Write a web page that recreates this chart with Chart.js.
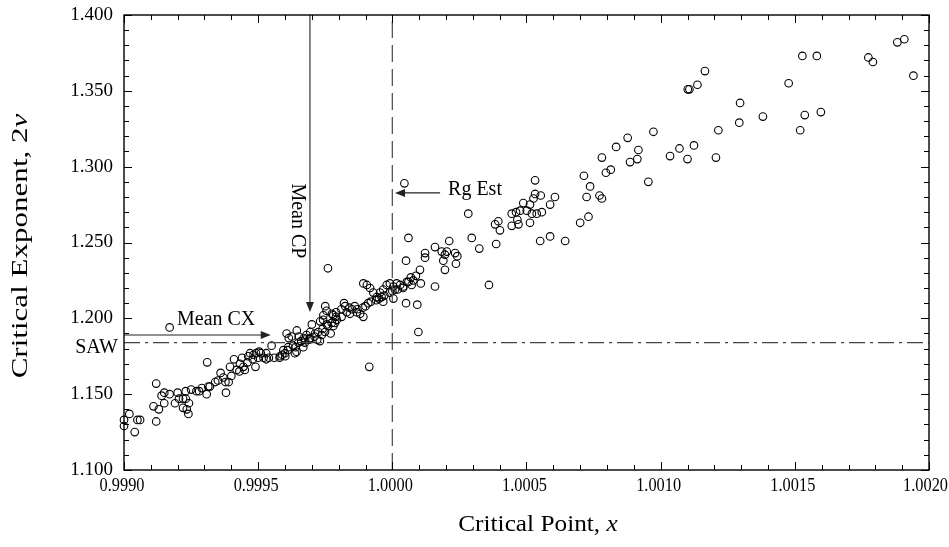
<!DOCTYPE html>
<html><head><meta charset="utf-8">
<script src="https://cdn.jsdelivr.net/npm/chart.js@4"></script>
<style>html,body{margin:0;padding:0;background:#fff;}#wrap{width:949px;height:547px;}</style>
</head><body><div id="wrap"><canvas id="c" width="949" height="547"></canvas></div>
<script>
const criticalPoint = [
0.99900,0.99902,0.99900,0.99904,0.99905,0.99906,0.99911,0.99912,0.99912,0.99913,0.99914,0.99915,0.99915,0.99917,0.99917,0.99919,0.99920,0.999205,0.99922,0.99922,0.99923,0.99923,0.999234,0.99924,0.999242,0.99925,0.99927,0.99928,0.99929,0.99931,0.999308,0.999314,0.99932,0.99934,0.99935,0.99936,0.99937,0.99938,0.999378,0.99939,0.999395,0.99940,0.99941,0.99942,0.99943,0.999432,0.99944,0.999445,0.99945,0.99946,0.999463,0.99947,0.99948,0.999483,0.99949,0.999492,0.99950,0.999504,0.99951,0.99952,0.99953,0.99954,0.99955,
0.99953,0.99956,0.99958,0.999581,0.99959,0.999594,0.99960,0.999601,0.99961,0.999606,0.999612,0.999614,0.99963,0.999625,0.99964,0.999637,0.999644,0.999643,0.99965,0.999651,0.99966,0.99967,0.999668,0.999675,0.999674,0.99968,0.99969,0.999693,0.999694,0.99970,0.99971,0.999712,0.99972,0.999724,0.99973,0.999731,0.99974,0.999737,0.999743,0.999742,0.99975,0.999749,0.999755,0.999756,0.99976,0.99977,0.999774,0.999775,0.99978,0.99979,0.999786,0.99976,
0.99978,0.99979,0.99981,0.99982,0.999824,0.99984,0.99985,0.99986,0.99987,0.99989,0.99990,0.99991,0.99992,0.99994,0.99995,0.99996,0.99997,0.99999,1.00000,1.00001,1.00002,1.00004,0.999892,0.999905,0.999917,0.999929,0.999942,0.999954,0.999966,0.999979,0.999991,1.000004,1.000016,1.000029,1.000041,1.000054,1.000051,0.999892,0.99988,0.999867,0.999842,0.99983,0.999811,0.999793,0.999914,
1.000045,1.00006,1.000051,1.000122,1.000122,1.000159,1.000212,1.000184,1.00019,1.000196,1.000203,1.000234,1.000242,1.000237,1.000196,1.000103,1.000088,1.000078,1.000072,1.000069,1.00006,0.999966,1.000004,1.000093,1.000106,1.000159,1.000097,1.000296,1.000283,1.000324,1.00036,1.000387,1.000383,1.000401,1.000395,1.000445,1.000445,1.000461,1.000466,1.00047,1.000476,1.000488,1.000501,
1.000513,1.00052,1.000538,1.000557,1.000551,1.000588,1.000644,1.000513,1.000588,1.000606,1.000553,1.000532,1.000526,1.000532,1.0007,1.000731,1.000724,1.000737,1.000714,1.000772,1.000781,1.000781,1.000796,1.000814,1.000834,1.000877,1.000886,1.000913,1.000917,1.000954,1.000973,1.001035,1.00107,1.0011,1.001124,1.001101,1.001107,1.001137,
1.001165,1.001206,1.001215,1.001293,1.001296,1.001381,1.001477,1.00152,1.001537,1.001528,1.001582,1.001597,1.001774,1.001791,1.001882,1.001908,1.001942
];
const criticalExponent = [
1.133,1.137,1.129,1.125,1.133,1.133,1.142,1.157,1.132,1.140,1.149,1.151,1.144,1.150,1.194,1.144,1.151,1.147,1.147,1.141,1.147,1.152,1.140,1.137,1.144,1.153,1.152,1.152,1.154,1.171,1.150,1.155,1.155,1.158,1.159,1.164,1.161,1.151,1.158,1.158,1.168,1.162,1.173,1.166,1.165,1.170,1.174,1.168,1.166,1.171,1.175,1.177,1.173,1.176,1.168,1.177,1.174,1.178,1.177,1.174,1.173,1.174,1.182,
1.177,1.174,1.174,1.175,1.176,1.179,1.177,1.175,1.179,1.190,1.181,1.187,1.182,1.188,1.181,1.177,1.192,1.178,1.184,1.188,1.185,1.187,1.181,1.186,1.184,1.189,1.186,1.187,1.191,1.196,1.188,1.190,1.186,1.191,1.185,1.198,1.193,1.189,1.202,1.199,1.208,1.191,1.205,1.196,1.195,1.190,1.197,1.203,1.195,1.201,1.197,1.233,
1.202,1.204,1.206,1.210,1.208,1.207,1.206,1.208,1.206,1.207,1.208,1.210,1.211,1.212,1.213,1.214,1.215,1.217,1.218,1.219,1.219,1.220,1.223,1.222,1.220,1.217,1.214,1.217,1.219,1.222,1.223,1.221,1.223,1.222,1.221,1.224,1.210,1.201,1.203,1.204,1.203,1.204,1.201,1.199,1.168,
1.289,1.253,1.238,1.243,1.240,1.247,1.251,1.244,1.238,1.242,1.244,1.243,1.241,1.236,1.232,1.232,1.228,1.225,1.222,1.227,1.224,1.211,1.213,1.209,1.223,1.221,1.191,1.253,1.269,1.246,1.222,1.249,1.262,1.258,1.264,1.261,1.269,1.270,1.265,1.262,1.271,1.276,1.271,
1.263,1.269,1.269,1.270,1.251,1.254,1.251,1.275,1.275,1.280,1.281,1.282,1.279,1.291,1.263,1.267,1.280,1.287,1.294,1.281,1.279,1.306,1.296,1.298,1.313,1.319,1.303,1.305,1.311,1.290,1.323,1.307,1.312,1.305,1.314,1.351,1.351,1.354,
1.363,1.306,1.324,1.329,1.342,1.333,1.355,1.324,1.334,1.373,1.373,1.336,1.372,1.369,1.382,1.384,1.360
];
const xTickLabels = [0.9990, 0.9995, 1.0000, 1.0005, 1.0010, 1.0015, 1.0020];
const yTickLabels = [1.100, 1.150, 1.200, 1.250, 1.300, 1.350, 1.400];
const sawExponent = 1.184;
const meanCP = 0.999693;
const meanCPTip = 1.2042;
const meanCX = 1.18906;
const meanCXTip = 0.999547;
const rgEst = 1.0000;
const rgArrowY = 1.2827;
const rgArrowTail = 1.000178;
const rgArrowTip = 1.00001;

const pts = criticalPoint.map((x, i) => ({x: x, y: criticalExponent[i]}));
const SERIF = '"Liberation Serif", "DejaVu Serif", serif';

function arrowHead(ctx, x, y, dir) {
  const L = 10, W = 4;
  ctx.beginPath();
  if (dir === 'down') { ctx.moveTo(x, y); ctx.lineTo(x - W, y - L); ctx.lineTo(x + W, y - L); }
  if (dir === 'right') { ctx.moveTo(x, y); ctx.lineTo(x - L, y - W); ctx.lineTo(x - L, y + W); }
  if (dir === 'left') { ctx.moveTo(x, y); ctx.lineTo(x + L, y - W); ctx.lineTo(x + L, y + W); }
  ctx.closePath(); ctx.fill();
}

function mixedText(ctx, plain, ital, size, stretch) {
  ctx.textAlign = 'left';
  ctx.font = size + 'px ' + SERIF; const w1 = ctx.measureText(plain).width;
  ctx.font = 'italic ' + size + 'px ' + SERIF; const w2 = ctx.measureText(ital).width;
  ctx.scale(stretch, 1);
  const x0 = -(w1 + w2) / 2;
  ctx.font = size + 'px ' + SERIF; ctx.fillText(plain, x0, 0);
  ctx.font = 'italic ' + size + 'px ' + SERIF; ctx.fillText(ital, x0 + w1, 0);
}

const deco = {
  id: 'deco',
  afterDraw(chart) {
    const ctx = chart.ctx, a = chart.chartArea, xs = chart.scales.x, ys = chart.scales.y;
    ctx.save();
    ctx.strokeStyle = '#000'; ctx.fillStyle = '#000';
    ctx.lineWidth = 1.4;
    ctx.strokeRect(a.left, a.top, a.right - a.left, a.bottom - a.top);
    ctx.lineWidth = 1;
    ctx.beginPath();
    for (let i = 0; i <= 30; i++) {
      const px = Math.round(xs.getPixelForValue(0.999 + i * 0.0001)) + 0.5;
      const len = (i % 5 === 0) ? 8 : 5;
      ctx.moveTo(px, a.bottom); ctx.lineTo(px, a.bottom - len);
      ctx.moveTo(px, a.top); ctx.lineTo(px, a.top + len);
    }
    for (let i = 0; i <= 30; i++) {
      const py = Math.round(ys.getPixelForValue(1.1 + i * 0.01)) + 0.5;
      const len = (i % 5 === 0) ? 8 : 5;
      ctx.moveTo(a.left, py); ctx.lineTo(a.left + len, py);
      ctx.moveTo(a.right, py); ctx.lineTo(a.right - len, py);
    }
    ctx.stroke();
    ctx.font = '19px ' + SERIF;
    ctx.textBaseline = 'middle';
    ctx.textAlign = 'right';
    yTickLabels.forEach(v => ctx.fillText(v.toFixed(3), a.left - 11, ys.getPixelForValue(v)));
    ctx.textAlign = 'center';
    xTickLabels.forEach(v => {
      const s = v.toFixed(4);
      const w = ctx.measureText(s).width * 0.86;
      const cx = Math.min(xs.getPixelForValue(v) - 2, chart.width - 1 - w / 2);
      ctx.save();
      ctx.translate(cx, a.bottom + 16);
      ctx.scale(0.86, 1.03);
      ctx.fillText(s, 0, 0);
      ctx.restore();
    });
    // axis titles
    ctx.textBaseline = 'middle';
    ctx.save();
    ctx.translate(538, 525);
    mixedText(ctx, 'Critical Point, ', 'x', 23, 1.1);
    ctx.restore();
    ctx.save();
    ctx.translate(21, 246);
    ctx.rotate(-Math.PI / 2);
    mixedText(ctx, 'Critical Exponent, 2', '\u03BD', 23, 1.35);
    ctx.restore();
    // annotations
    ctx.fillStyle = '#222';
    arrowHead(ctx, xs.getPixelForValue(meanCP), ys.getPixelForValue(meanCPTip), 'down');
    arrowHead(ctx, xs.getPixelForValue(meanCXTip), ys.getPixelForValue(meanCX), 'right');
    arrowHead(ctx, xs.getPixelForValue(rgArrowTip), ys.getPixelForValue(rgArrowY), 'left');
    ctx.fillStyle = '#000';
    ctx.font = '20px ' + SERIF;
    ctx.textAlign = 'left'; ctx.textBaseline = 'middle';
    ctx.fillText('Mean CX', xs.getPixelForValue(0.9991975), ys.getPixelForValue(1.1989));
    ctx.fillText('Rg Est', xs.getPixelForValue(1.0002076), ys.getPixelForValue(1.28464));
    ctx.textAlign = 'right';
    ctx.fillText('SAW', a.left - 6, ys.getPixelForValue(sawExponent) + 5);
    ctx.save();
    ctx.translate(xs.getPixelForValue(0.999645), ys.getPixelForValue(1.2642));
    ctx.rotate(Math.PI / 2);
    ctx.textAlign = 'center';
    ctx.fillText('Mean CP', 0, 0);
    ctx.restore();
    ctx.restore();
  }
};

new Chart(document.getElementById('c'), {
  type: 'scatter',
  data: {
    datasets: [
      { data: [{x: 0.999, y: sawExponent}, {x: 1.002, y: sawExponent}], showLine: true, pointRadius: 0,
        borderColor: '#444', borderWidth: 1.2, borderDash: [16, 5, 3, 5] },
      { data: [{x: rgEst, y: 1.1}, {x: rgEst, y: 1.4}], showLine: true, pointRadius: 0,
        borderColor: '#555', borderWidth: 1.3, borderDash: [17, 7] },
      { data: [{x: meanCP, y: 1.4}, {x: meanCP, y: meanCPTip + 0.004}], showLine: true, pointRadius: 0,
        borderColor: '#222', borderWidth: 1.1 },
      { data: [{x: 0.999, y: meanCX}, {x: meanCXTip - 0.00002, y: meanCX}], showLine: true, pointRadius: 0,
        borderColor: '#222', borderWidth: 1.1 },
      { data: [{x: rgArrowTail, y: rgArrowY}, {x: rgArrowTip + 0.00002, y: rgArrowY}], showLine: true, pointRadius: 0,
        borderColor: '#222', borderWidth: 1.1 },
      { data: pts, pointStyle: 'circle', pointRadius: 3.8, borderColor: '#000', borderWidth: 1.1,
        backgroundColor: 'rgba(0,0,0,0)', showLine: false, clip: false }
    ]
  },
  options: {
    responsive: false, animation: false, devicePixelRatio: 1,
    layout: { padding: { left: 0, right: 20, top: 15, bottom: 0 } },
    plugins: { legend: { display: false }, tooltip: { enabled: false } },
    scales: {
      x: { type: 'linear', min: 0.999, max: 1.002,
        grid: { display: false, drawTicks: false }, border: { display: false },
        ticks: { display: false },
        afterFit(s) { s.height = 77; s.paddingLeft = 0; s.paddingRight = 0; } },
      y: { type: 'linear', min: 1.1, max: 1.4,
        grid: { display: false, drawTicks: false }, border: { display: false },
        ticks: { display: false },
        afterFit(s) { s.width = 124; s.paddingTop = 0; s.paddingBottom = 0; } }
    }
  },
  plugins: [deco]
});
</script>
</body></html>
